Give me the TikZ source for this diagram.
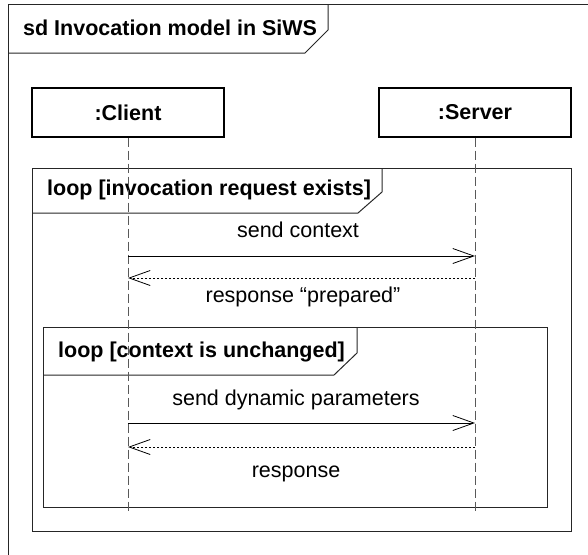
\documentclass[tikz,border=0pt]{standalone}
\usepackage{fontspec}
\setmainfont{Liberation Sans}
\usetikzlibrary{arrows.meta, positioning}

\begin{document}
\begin{tikzpicture}[x=1pt, y=-1pt,
    every node/.style={font=\fontsize{21.5}{25}\selectfont, inner sep=0pt},
    frame/.style={draw=black!85, line width=1pt},
    heading/.style={anchor=base west, font=\fontsize{21.5}{25}\selectfont\bfseries},
    lifeline/.style={draw=black!65, line width=1pt, dash pattern=on 9pt off 4pt},
    obj/.style={draw, line width=1.1pt, minimum width=192pt, minimum height=49pt, font=\fontsize{21.5}{25}\selectfont\bfseries},
    msg/.style={draw, line width=0.8pt, -{Straight Barb[length=21pt, width=15pt, line width=0.8pt]}},
    reply/.style={msg, dash pattern=on 2.5pt off 1.5pt}]
  \useasboundingbox (0,0) rectangle (588,554);
  \clip (0,0) rectangle (588,554);
  % Diagram frame
  \draw[frame] (8,4) rectangle (620,600);
  \draw[frame] (8,53) -- (305,53) -- (328,30) -- (328,4);
  \node[heading] (title) at (23,35) {sd Invocation model in SiWS};
  % Lifeline heads
  \node[obj] (client) at (128,112.5) {:Client};
  \node[obj] (server) at (475,112.5) {:Server};
  % Outer loop
  \draw[frame] (32,168) rectangle (571,531);
  \draw[frame] (32,213) -- (358,213) -- (382,192) -- (382,168);
  \node[heading] (outer) at (47,195) {loop [invocation request exists]};
  % Inner loop
  \draw[frame] (43,327) rectangle (547,507);
  \draw[frame] (43,375) -- (334,375) -- (357,353) -- (357,327);
  \node[heading] (inner) at (58,357) {loop [context is unchanged]};
  % Lifelines
  \coordinate (cend) at (128,514);
  \coordinate (send) at (475,514);
  \draw[lifeline] (client.south) -- (cend);
  \draw[lifeline] (server.south) -- (send);
  % Messages
  \coordinate (c1) at (128,256); \coordinate (s1) at (475,256);
  \coordinate (c2) at (128,278); \coordinate (s2) at (475,278);
  \coordinate (c3) at (128,423); \coordinate (s3) at (475,423);
  \coordinate (c4) at (128,447); \coordinate (s4) at (475,447);
  \draw[msg] (c1) -- (s1);
  \node[anchor=base] (m1) at (298,237) {send context};
  \draw[reply] (s2) -- (c2);
  \node[anchor=base] (m2) at (303,302) {response \char"201C prepared\char"201D};
  \draw[msg] (c3) -- (s3);
  \node[anchor=base] (m3) at (296,405) {send dynamic parameters};
  \draw[reply] (s4) -- (c4);
  \node[anchor=base] (m4) at (296,477) {response};
\end{tikzpicture}
\end{document}
